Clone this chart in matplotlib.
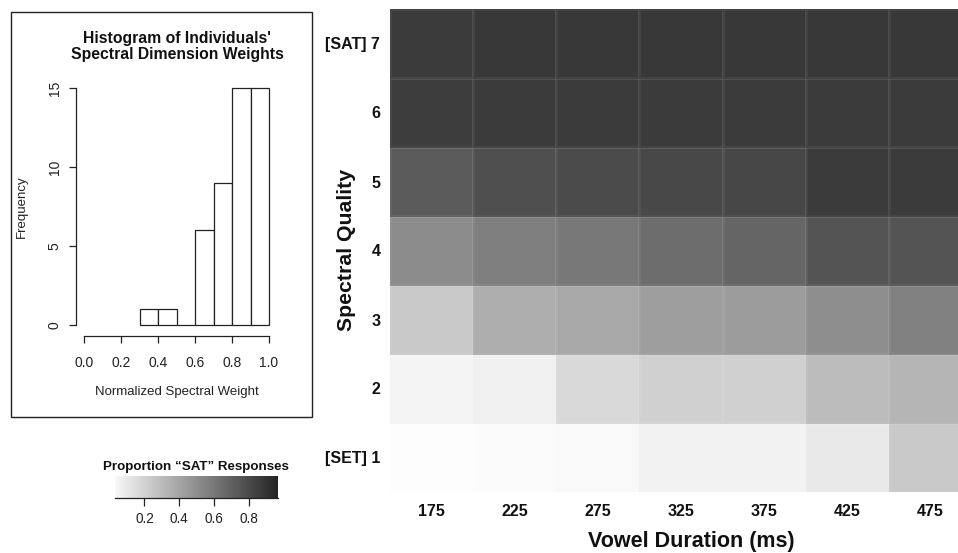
import numpy as np
import matplotlib
matplotlib.use("Agg")
import matplotlib.pyplot as plt
from matplotlib.colors import LinearSegmentedColormap, Normalize

plt.rcParams['font.family'] = ['Liberation Sans', 'DejaVu Sans']

# ---------------- data ----------------
hist_edges = [0.3, 0.4, 0.5, 0.6, 0.7, 0.8, 0.9, 1.0]
hist_counts = [1, 1, 0, 6, 9, 15, 15]

durations = [175, 225, 275, 325, 375, 425, 475]
quality_labels = ["[SET] 1", "2", "3", "4", "5", "6", "[SAT] 7"]
# proportion "SAT" responses, rows = spectral step 1..7, cols = durations
prop_row1 = [0.01, 0.02, 0.03, 0.06, 0.06, 0.10, 0.24]
prop_row2 = [0.05, 0.07, 0.17, 0.21, 0.21, 0.30, 0.33]
prop_row3 = [0.24, 0.36, 0.39, 0.43, 0.44, 0.50, 0.56]
prop_row4 = [0.51, 0.57, 0.60, 0.65, 0.68, 0.76, 0.76]
prop_row5 = [0.73, 0.78, 0.80, 0.81, 0.82, 0.87, 0.87]
prop_row6 = [0.86, 0.87, 0.87, 0.87, 0.87, 0.87, 0.87]
prop_row7 = [0.87, 0.88, 0.88, 0.88, 0.88, 0.88, 0.88]
cbar_ticks = [0.2, 0.4, 0.6, 0.8]
cbar_range = [0.03, 0.97]

W, H = 958, 553
fig = plt.figure(figsize=(W / 100, H / 100), dpi=100)

def rect(x0, y0, x1, y1):
    return [x0 / W, 1 - y1 / H, (x1 - x0) / W, (y1 - y0) / H]

cmap = LinearSegmentedColormap.from_list("g", ["#ffffff", "#1e1e1e"])
norm = Normalize(0, 1)

# ---------------- histogram panel ----------------
box = plt.Rectangle((11 / W, 1 - 417 / H), (312 - 11) / W, (417 - 12) / H,
                    transform=fig.transFigure, fill=False, ec='#222222', lw=1.0)
fig.add_artist(box)

axh = fig.add_axes(rect(84, 88, 269, 325))
axh.bar(hist_edges[:-1], hist_counts, width=0.1, align='edge',
        facecolor='white', edgecolor='#222222', lw=0.9, clip_on=False)
axh.set_xlim(0, 1)
axh.set_ylim(0, 15)
for s in ['top', 'right']:
    axh.spines[s].set_visible(False)
axh.spines['left'].set_position(('outward', 6))
axh.spines['bottom'].set_position(('outward', 8))
axh.spines['left'].set_bounds(0, 15)
axh.spines['bottom'].set_bounds(0, 1)
for s in ['left', 'bottom']:
    axh.spines[s].set_linewidth(0.9)
    axh.spines[s].set_color('#222222')
axh.set_xticks([0.0, 0.2, 0.4, 0.6, 0.8, 1.0])
axh.set_xticklabels(["0.0", "0.2", "0.4", "0.6", "0.8", "1.0"])
axh.set_yticks([0, 5, 10, 15])
axh.set_yticklabels(["0", "5", "10", "15"], rotation=90, va='center')
axh.tick_params(axis='both', length=5, width=0.9, color='#222222',
                labelsize=10, labelcolor='#222222')
axh.tick_params(axis='x', pad=9)
axh.tick_params(axis='y', pad=5)
axh.set_facecolor('none')
fig.text(177 / W, 1 - 46.5 / H, "Histogram of Individuals'\nSpectral Dimension Weights",
         ha='center', va='center', fontsize=11.3, fontweight='bold',
         linespacing=1.1, color='#111111')
fig.text(22 / W, 1 - 207 / H, "Frequency", rotation=90, ha='center',
         va='center', fontsize=9.5, color='#222222')
fig.text(177 / W, 1 - 392 / H, "Normalized Spectral Weight", ha='center',
         va='center', fontsize=9.5, color='#222222')

# ---------------- heatmap ----------------
data = np.array([prop_row1, prop_row2, prop_row3, prop_row4,
                 prop_row5, prop_row6, prop_row7])
axm = fig.add_axes(rect(390, 9, 972, 492))
mesh = axm.pcolormesh(np.arange(len(durations) + 1), np.arange(len(quality_labels) + 1),
                      data, cmap=cmap, norm=norm,
                      edgecolors=(1, 1, 1, 0.06), linewidth=0.8)
axm.set_xlim(0, len(durations))
axm.set_ylim(0, len(quality_labels))
axm.set_xticks(np.arange(len(durations)) + 0.5)
axm.set_xticklabels([str(d) for d in durations])
axm.set_yticks(np.arange(len(quality_labels)) + 0.5)
axm.set_yticklabels(quality_labels)
axm.tick_params(length=0, labelsize=11.5, colors='#111111')
axm.tick_params(axis='x', pad=9)
axm.tick_params(axis='y', pad=7)
for lab in axm.get_xticklabels() + axm.get_yticklabels():
    lab.set_fontweight('bold')
for s in axm.spines.values():
    s.set_visible(False)
fig.text(347 / W, 1 - 250 / H, "Spectral Quality", rotation=90, ha='center',
         va='center', fontsize=15.3, fontweight='bold', color='#111111')
fig.text(691 / W, 1 - 542 / H, "Vowel Duration (ms)", ha='center',
         va='center', fontsize=15.5, fontweight='bold', color='#111111')

# ---------------- colorbar ----------------
axc = fig.add_axes(rect(115, 476, 278, 498))
grad = np.linspace(cbar_range[0], cbar_range[1], 256).reshape(1, -1)
axc.imshow(grad, aspect='auto', cmap=cmap, norm=norm,
           extent=[cbar_range[0], cbar_range[1], 0, 1])
axc.set_xlim(cbar_range)
axc.set_ylim(0, 1)
axc.set_yticks([])
axc.set_xticks(cbar_ticks)
axc.set_xticklabels([f"{t:.1f}" for t in cbar_ticks])
for s in ['top', 'left', 'right']:
    axc.spines[s].set_visible(False)
axc.spines['bottom'].set_linewidth(0.9)
axc.spines['bottom'].set_color('#222222')
axc.tick_params(axis='x', length=6, width=0.9, color='#222222',
                labelsize=9.8, labelcolor='#222222', pad=4)
fig.text(195.5 / W, 1 - 467 / H, "Proportion \u201cSAT\u201d Responses", ha='center',
         va='center', fontsize=9.6, fontweight='bold', color='#111111')

fig.savefig("out.png", dpi=100)
